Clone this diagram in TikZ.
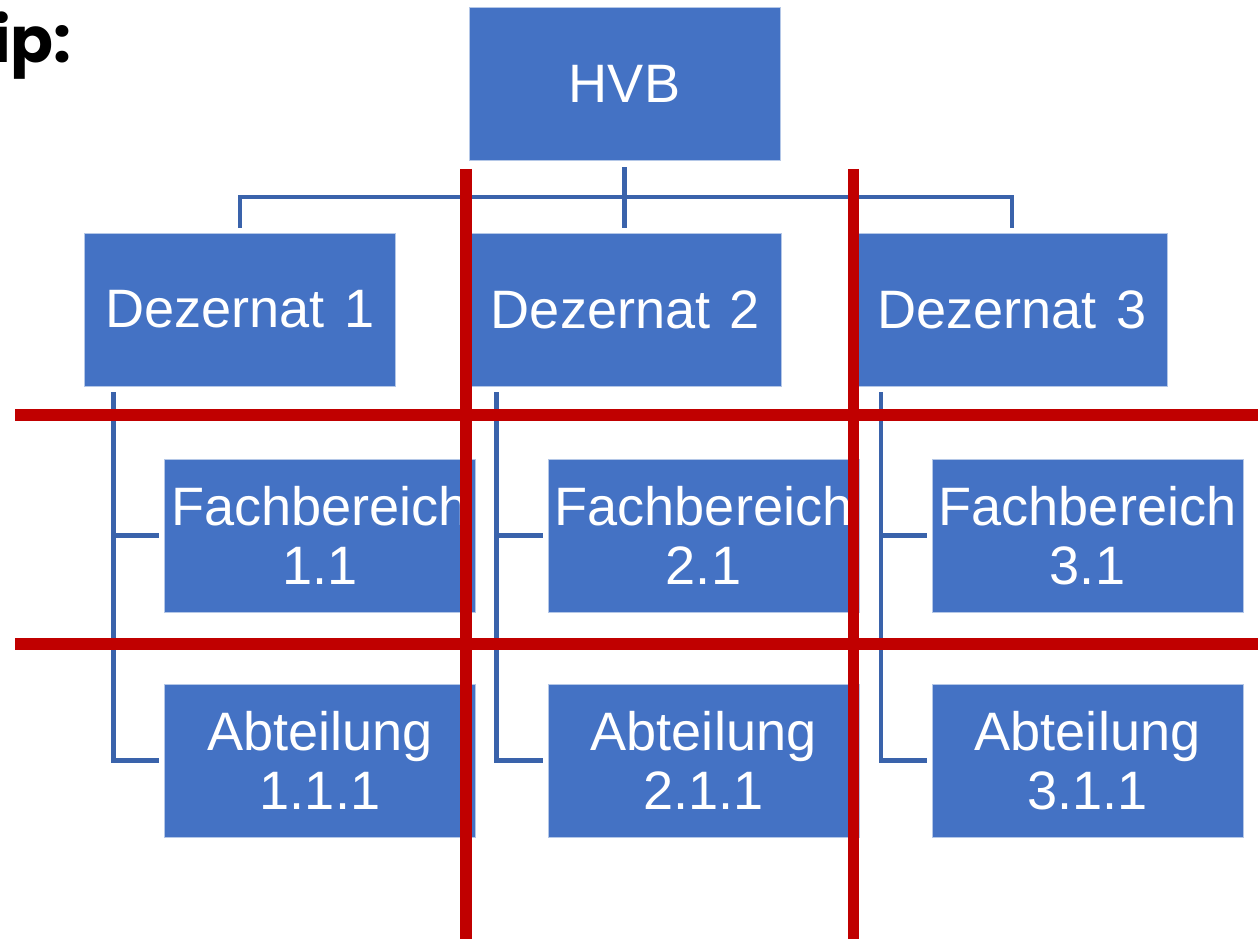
\documentclass[tikz,border=0pt]{standalone}
\usepackage{fontspec}
\setmainfont{Liberation Sans}
\newfontfamily\titlefont{Poppins}
\definecolor{boxblue}{HTML}{4472C4}
\definecolor{lineblue}{HTML}{3A63AB}
\definecolor{cutred}{HTML}{C00000}
\tikzset{
  unit/.style={fill=boxblue, draw=white!60!boxblue, line width=0.3pt, text=white,
    minimum width=6.22cm, minimum height=3.06cm, inner sep=0pt, align=center,
    font=\fontsize{30.8}{33.4}\selectfont},
  link/.style={lineblue, line width=2.6pt},
  cut/.style={cutred, line width=6.8pt}
}
\begin{document}
\begin{tikzpicture}[x=0.02cm,y=-0.02cm]
    \useasboundingbox (0,0) rectangle (1258,939);
    \node[anchor=base east,inner sep=0pt,font=\titlefont\bfseries\fontsize{36}{38}\selectfont] (title) at (72,63) {ip:};
    % top level
    \node[unit] (hvb) at (624.5,83.5) {HVB};
    \node[unit] (dez1) at (240,309.5) {Dezernat\hspace{0.36em}1};
    \node[unit] (dez2) at (625.5,309.5) {Dezernat\hspace{0.36em}2};
    \node[unit] (dez3) at (1012,309.5) {Dezernat\hspace{0.36em}3};
    \node[unit] (fb1) at (320,535.5) {Fachbereich\\1.1};
    \node[unit] (fb2) at (703.5,535.5) {Fachbereich\\2.1};
    \node[unit] (fb3) at (1087.5,535.5) {Fachbereich\\3.1};
    \node[unit] (ab1) at (320,760.5) {Abteilung\\1.1.1};
    \node[unit] (ab2) at (703.5,760.5) {Abteilung\\2.1.1};
    \node[unit] (ab3) at (1087.5,760.5) {Abteilung\\3.1.1};
    % tree lines
    \coordinate (bus) at (624.5,197);
    \draw[link,shorten <=0.14cm] (hvb.south) -- (bus);
    \draw[link,shorten <=0.1cm,shorten >=0.1cm] (dez1.north) |- (bus) -| (dez3.north);
    \draw[link,shorten >=0.1cm] (bus) -- (bus |- dez2.north);
    \path ([xshift=-1.02cm]fb1.west) coordinate (s1)
          ([xshift=-1.02cm]fb2.west) coordinate (s2)
          ([xshift=-1.02cm]fb3.west) coordinate (s3);
    \draw[link,shorten <=0.12cm,shorten >=0.1cm] (s1 |- dez1.south) |- (fb1.west);
    \draw[link,shorten <=0.12cm,shorten >=0.1cm] (s1 |- dez1.south) |- (ab1.west);
    \draw[link,shorten <=0.12cm,shorten >=0.1cm] (s2 |- dez2.south) |- (fb2.west);
    \draw[link,shorten <=0.12cm,shorten >=0.1cm] (s2 |- dez2.south) |- (ab2.west);
    \draw[link,shorten <=0.12cm,shorten >=0.1cm] (s3 |- dez3.south) |- (fb3.west);
    \draw[link,shorten <=0.12cm,shorten >=0.1cm] (s3 |- dez3.south) |- (ab3.west);
    % cuts
    \draw[cut] (466,169) -- (466,939);
    \draw[cut] (853.5,169) -- (853.5,939);
    \draw[cut] (15,415) -- (1258,415);
    \draw[cut] (15,644) -- (1258,644);
\end{tikzpicture}
\end{document}
